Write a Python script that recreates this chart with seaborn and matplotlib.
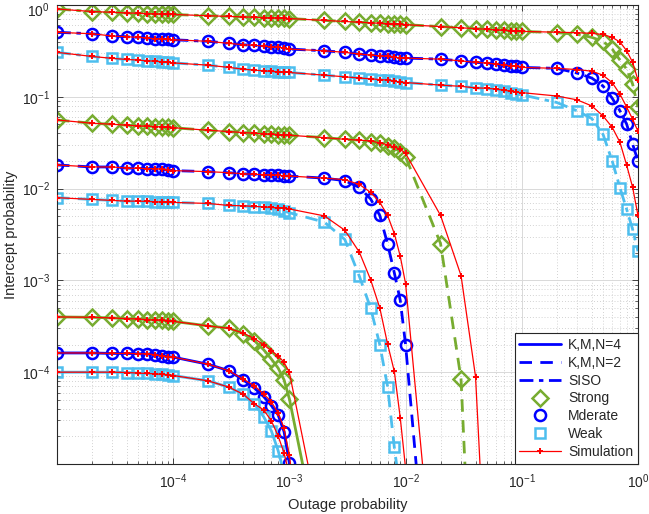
import numpy as np
import seaborn as sns
import matplotlib.pyplot as plt
import matplotlib.transforms as mtransforms
from matplotlib.lines import Line2D
from matplotlib.ticker import NullFormatter

# outage probability grid (1..9 x 10^k)
outage = [1e-5, 2e-5, 3e-5, 4e-5, 5e-5, 6e-5, 7e-5, 8e-5, 9e-5,
          1e-4, 2e-4, 3e-4, 4e-4, 5e-4, 6e-4, 7e-4, 8e-4, 9e-4,
          1e-3, 2e-3, 3e-3, 4e-3, 5e-3, 6e-3, 7e-3, 8e-3, 9e-3,
          1e-2, 2e-2, 3e-2, 4e-2, 5e-2, 6e-2, 7e-2, 8e-2, 9e-2,
          0.1, 0.2, 0.3, 0.4, 0.5, 0.6, 0.7, 0.8, 0.9, 1.0]

# SISO (dash-dot)
siso_strong = [0.904, 0.849, 0.832, 0.818, 0.812, 0.806, 0.800, 0.796, 0.792,
               0.788, 0.764, 0.751, 0.741, 0.734, 0.729, 0.723, 0.719, 0.716,
               0.712, 0.679, 0.661, 0.649, 0.639, 0.631, 0.625, 0.619, 0.614,
               0.610, 0.582, 0.564, 0.553, 0.543, 0.536, 0.530, 0.524, 0.520,
               0.516, 0.500, 0.479, 0.444, 0.402, 0.331, 0.251, 0.200, 0.137,
               0.077]
siso_strong_sim = [0.904, 0.849, 0.832, 0.818, 0.812, 0.806, 0.800, 0.796, 0.792,
                   0.788, 0.764, 0.751, 0.741, 0.734, 0.729, 0.723, 0.719, 0.716,
                   0.712, 0.679, 0.661, 0.649, 0.639, 0.631, 0.625, 0.619, 0.614,
                   0.610, 0.582, 0.564, 0.553, 0.543, 0.536, 0.530, 0.524, 0.520,
                   0.516, 0.505, 0.499, 0.491, 0.477, 0.444, 0.395, 0.317, 0.237,
                   0.152]
siso_mod = [0.504, 0.486, 0.459, 0.451, 0.444, 0.436, 0.429, 0.425, 0.422,
            0.418, 0.402, 0.382, 0.369, 0.363, 0.357, 0.350, 0.345, 0.342,
            0.331, 0.317, 0.305, 0.292, 0.284, 0.280, 0.275, 0.269, 0.266,
            0.264, 0.257, 0.246, 0.237, 0.233, 0.227, 0.221, 0.218, 0.214,
            0.209, 0.204, 0.181, 0.160, 0.131, 0.0965, 0.0702, 0.0502, 0.0304,
            0.0200]
siso_mod_sim = [0.504, 0.486, 0.459, 0.451, 0.444, 0.436, 0.429, 0.425, 0.422,
                0.418, 0.402, 0.382, 0.369, 0.363, 0.357, 0.350, 0.345, 0.342,
                0.331, 0.317, 0.305, 0.292, 0.284, 0.280, 0.275, 0.269, 0.266,
                0.264, 0.257, 0.246, 0.237, 0.233, 0.227, 0.221, 0.218, 0.214,
                0.209, 0.204, 0.198, 0.190, 0.172, 0.1425, 0.1068, 0.077, 0.0569,
                0.0421]
siso_weak = [0.305, 0.275, 0.262, 0.255, 0.251, 0.246, 0.245, 0.240, 0.238,
             0.234, 0.221, 0.209, 0.200, 0.195, 0.192, 0.189, 0.187, 0.185,
             0.184, 0.172, 0.165, 0.160, 0.157, 0.154, 0.152, 0.148, 0.145,
             0.143, 0.134, 0.130, 0.125, 0.123, 0.120, 0.117, 0.111, 0.107,
             0.105, 0.0867, 0.0702, 0.0580, 0.0391, 0.0200, 0.0102, 0.00593, 0.00359,
             0.00208]
siso_weak_sim = [0.305, 0.275, 0.262, 0.255, 0.251, 0.246, 0.245, 0.240, 0.238,
                 0.234, 0.221, 0.209, 0.200, 0.195, 0.192, 0.189, 0.187, 0.185,
                 0.184, 0.172, 0.165, 0.160, 0.157, 0.154, 0.152, 0.148, 0.145,
                 0.143, 0.134, 0.130, 0.125, 0.124, 0.121, 0.118, 0.115, 0.112,
                 0.111, 0.102, 0.0925, 0.0796, 0.0619, 0.0466, 0.0319, 0.0179, 0.0103,
                 0.0051]

# K,M,N=2 (dashed)
kmn2_strong = [0.0559, 0.0515, 0.0502, 0.0490, 0.0481, 0.0478, 0.0474, 0.0469, 0.0466,
               0.0460, 0.0432, 0.0418, 0.0408, 0.0400, 0.0394, 0.0391, 0.0388, 0.0384,
               0.0381, 0.0359, 0.0344, 0.0337, 0.0324, 0.0310, 0.0293, 0.0276, 0.0252,
               0.0222, 0.00252, 8.47e-5, 3e-8]
kmn2_strong_sim = [0.0559, 0.0515, 0.0502, 0.0490, 0.0481, 0.0478, 0.0474, 0.0469, 0.0466,
                   0.0460, 0.0432, 0.0418, 0.0408, 0.0400, 0.0394, 0.0391, 0.0388, 0.0384,
                   0.0381, 0.0359, 0.0344, 0.0337, 0.0330, 0.0315, 0.0300, 0.0285, 0.0268,
                   0.0242, 0.0051, 0.00113, 8.97e-5, 3.5e-7]
kmn2_mod = [0.0181, 0.0172, 0.0172, 0.0167, 0.0166, 0.0165, 0.0165, 0.0162, 0.0159,
            0.0157, 0.0153, 0.0149, 0.0145, 0.0143, 0.0142, 0.0140, 0.0139, 0.0138,
            0.0137, 0.0130, 0.0122, 0.0103, 0.00772, 0.00510, 0.00250, 0.00121, 0.000606,
            0.000199, 1e-8]
kmn2_mod_sim = [0.0181, 0.0172, 0.0172, 0.0167, 0.0166, 0.0165, 0.0165, 0.0162, 0.0159,
                0.0157, 0.0153, 0.0149, 0.0145, 0.0143, 0.0142, 0.0140, 0.0139, 0.0138,
                0.0137, 0.0130, 0.0125, 0.0111, 0.00909, 0.00707, 0.00510, 0.00324, 0.00183,
                0.000923, 8e-8]
kmn2_weak = [0.00796, 0.00762, 0.00743, 0.00730, 0.00730, 0.00725, 0.00719, 0.00712, 0.00712,
             0.00707, 0.00689, 0.00655, 0.00644, 0.00634, 0.00628, 0.00612, 0.00593, 0.00568,
             0.00546, 0.00431, 0.00279, 0.00111, 0.000501, 0.000199, 6.98e-5, 1.52e-5, 5e-6]
kmn2_weak_sim = [0.00796, 0.00762, 0.00743, 0.00730, 0.00730, 0.00725, 0.00719, 0.00712, 0.00712,
                 0.00707, 0.00689, 0.00655, 0.00650, 0.00639, 0.00631, 0.00623, 0.00616, 0.00608,
                 0.00600, 0.00504, 0.00352, 0.00203, 0.00102, 0.000501, 0.000203, 0.000102, 3.18e-5,
                 9e-6]

# K,M,N=4 (solid)
kmn4_strong = [4.00e-4, 3.96e-4, 3.90e-4, 3.83e-4, 3.80e-4, 3.73e-4, 3.70e-4, 3.67e-4, 3.64e-4,
               3.58e-4, 3.19e-4, 3.03e-4, 2.63e-4, 2.20e-4, 1.76e-4, 1.39e-4, 1.11e-4, 8.26e-5,
               5.12e-5, 6.8e-7]
kmn4_strong_sim = [4.00e-4, 3.96e-4, 3.90e-4, 3.83e-4, 3.80e-4, 3.73e-4, 3.70e-4, 3.67e-4, 3.64e-4,
                   3.58e-4, 3.19e-4, 3.00e-4, 2.67e-4, 2.32e-4, 1.99e-4, 1.71e-4, 1.51e-4, 1.28e-4,
                   9.93e-5, 1.3e-6]
kmn4_mod = [1.62e-4, 1.62e-4, 1.60e-4, 1.60e-4, 1.59e-4, 1.58e-4, 1.55e-4, 1.51e-4, 1.48e-4,
            1.46e-4, 1.22e-4, 1.04e-4, 8.26e-5, 6.71e-5, 5.43e-5, 4.33e-5, 3.43e-5, 2.25e-5,
            1.02e-5, 1e-8]
kmn4_mod_sim = [1.62e-4, 1.62e-4, 1.60e-4, 1.60e-4, 1.59e-4, 1.58e-4, 1.55e-4, 1.51e-4, 1.48e-4,
                1.46e-4, 1.22e-4, 1.04e-4, 8.40e-5, 7.10e-5, 5.81e-5, 4.75e-5, 3.60e-5, 2.47e-5,
                1.25e-5, 1e-8]
kmn4_weak = [1.00e-4, 1.00e-4, 1.00e-4, 9.92e-5, 9.77e-5, 9.68e-5, 9.61e-5, 9.44e-5, 9.37e-5,
             9.20e-5, 8.05e-5, 6.88e-5, 5.77e-5, 4.52e-5, 3.28e-5, 2.29e-5, 1.40e-5, 8e-6]
kmn4_weak_sim = [1.00e-4, 1.00e-4, 1.00e-4, 9.92e-5, 9.77e-5, 9.68e-5, 9.61e-5, 9.44e-5, 9.37e-5,
                 9.20e-5, 8.05e-5, 6.88e-5, 5.77e-5, 4.52e-5, 3.89e-5, 2.95e-5, 2.02e-5, 1.32e-5,
                 7.6e-6]

GREEN = '#77AC30'
BLUE = '#0000FF'
LBLUE = '#4DBEEE'
RED = '#FF0000'

sns.set_style('ticks')
plt.rcParams['font.family'] = ['Liberation Sans', 'DejaVu Sans']
plt.rcParams['mathtext.fontset'] = 'custom'
plt.rcParams['mathtext.rm'] = 'Liberation Sans'
plt.rcParams['mathtext.it'] = 'Liberation Sans:italic'

fig = plt.figure(figsize=(6.49, 5.14), dpi=100)
ax = fig.add_axes([0.0878, 0.0973, 0.8952, 0.8930])
ax.set_xscale('log')
ax.set_yscale('log')

solid = '-'
dashed = (0, (4.5, 3.0))
dashdot = (0, (5.0, 2.0, 1.6, 2.0))

groups = [
    (kmn4_strong, kmn4_strong_sim, GREEN, 'D', 8.5, solid),
    (kmn4_mod, kmn4_mod_sim, BLUE, 'o', 8, solid),
    (kmn4_weak, kmn4_weak_sim, LBLUE, 's', 7, solid),
    (kmn2_strong, kmn2_strong_sim, GREEN, 'D', 8.5, dashed),
    (kmn2_mod, kmn2_mod_sim, BLUE, 'o', 8, dashed),
    (kmn2_weak, kmn2_weak_sim, LBLUE, 's', 7, dashed),
    (siso_strong, siso_strong_sim, GREEN, 'D', 8.5, dashdot),
    (siso_mod, siso_mod_sim, BLUE, 'o', 8, dashdot),
    (siso_weak, siso_weak_sim, LBLUE, 's', 7, dashdot),
]

for ana, sim, col, mk, ms, ls in groups:
    sns.lineplot(x=outage[:len(ana)], y=ana, ax=ax, color=col, linestyle=ls,
                 lw=2.0, marker=mk, markersize=ms, markerfacecolor='none',
                 markeredgecolor=col, markeredgewidth=1.8, legend=False, zorder=2)

for ana, sim, col, mk, ms, ls in groups:
    sns.lineplot(x=outage[:len(sim)], y=sim, ax=ax, color=RED, linestyle='-',
                 lw=0.9, marker='+', markersize=4.5, markeredgecolor=RED,
                 markeredgewidth=1.4, legend=False, zorder=3)

ax.set_xlim(1e-5, 1)
ax.set_ylim(1e-5, 1)
ax.set_xticks([1e-4, 1e-3, 1e-2, 1e-1, 1])
ax.set_yticks([1e-4, 1e-3, 1e-2, 1e-1, 1])
ax.xaxis.set_minor_formatter(NullFormatter())
ax.yaxis.set_minor_formatter(NullFormatter())

ax.grid(which='major', color='#d9d9d9', lw=0.7, ls='-')
ax.grid(which='minor', color='#c4c4c4', lw=0.6, ls=(0, (1, 2.5)))
ax.set_axisbelow(True)
ax.tick_params(which='both', direction='in', top=True, right=True,
               color='#262626', labelcolor='#262626', labelsize=10)
ax.tick_params(which='major', length=4, width=0.6)
ax.tick_params(axis='x', which='major', pad=6)
ax.tick_params(axis='y', which='major', pad=5)
ax.tick_params(which='minor', length=2.2, width=0.5)
for sp in ax.spines.values():
    sp.set_color('#262626')
    sp.set_linewidth(0.8)

# nudge the top y label down so its exponent stays inside the figure
top_lab = ax.yaxis.get_major_ticks()[-1].label1
top_lab.set_transform(top_lab.get_transform() +
                      mtransforms.ScaledTranslation(0, -3 / 72, fig.dpi_scale_trans))

ax.set_xlabel('Outage probability', fontsize=10.5, color='#262626', labelpad=5)
ax.set_ylabel('Intercept probability', fontsize=10.5, color='#262626', labelpad=3)

handles = [
    Line2D([], [], color=BLUE, lw=2, ls=solid),
    Line2D([], [], color=BLUE, lw=2, ls=dashed),
    Line2D([], [], color=BLUE, lw=2, ls=dashdot),
    Line2D([], [], color=GREEN, ls='none', marker='D', ms=8, mfc='none', mew=1.8),
    Line2D([], [], color=BLUE, ls='none', marker='o', ms=8, mfc='none', mew=1.8),
    Line2D([], [], color=LBLUE, ls='none', marker='s', ms=7, mfc='none', mew=1.8),
    Line2D([], [], color=RED, lw=0.9, marker='+', ms=4.5, mew=1.4),
]
labels = ['K,M,N=4', 'K,M,N=2', 'SISO', 'Strong', 'Mderate', 'Weak', 'Simulation']
leg = ax.legend(handles, labels, loc='lower right', borderaxespad=0,
                fontsize=10, handlelength=3.0, handletextpad=0.5,
                labelspacing=0.28, borderpad=0.35, fancybox=False,
                framealpha=1, edgecolor='#262626')
leg.get_frame().set_linewidth(0.8)

fig.savefig('out.png', dpi=100)
